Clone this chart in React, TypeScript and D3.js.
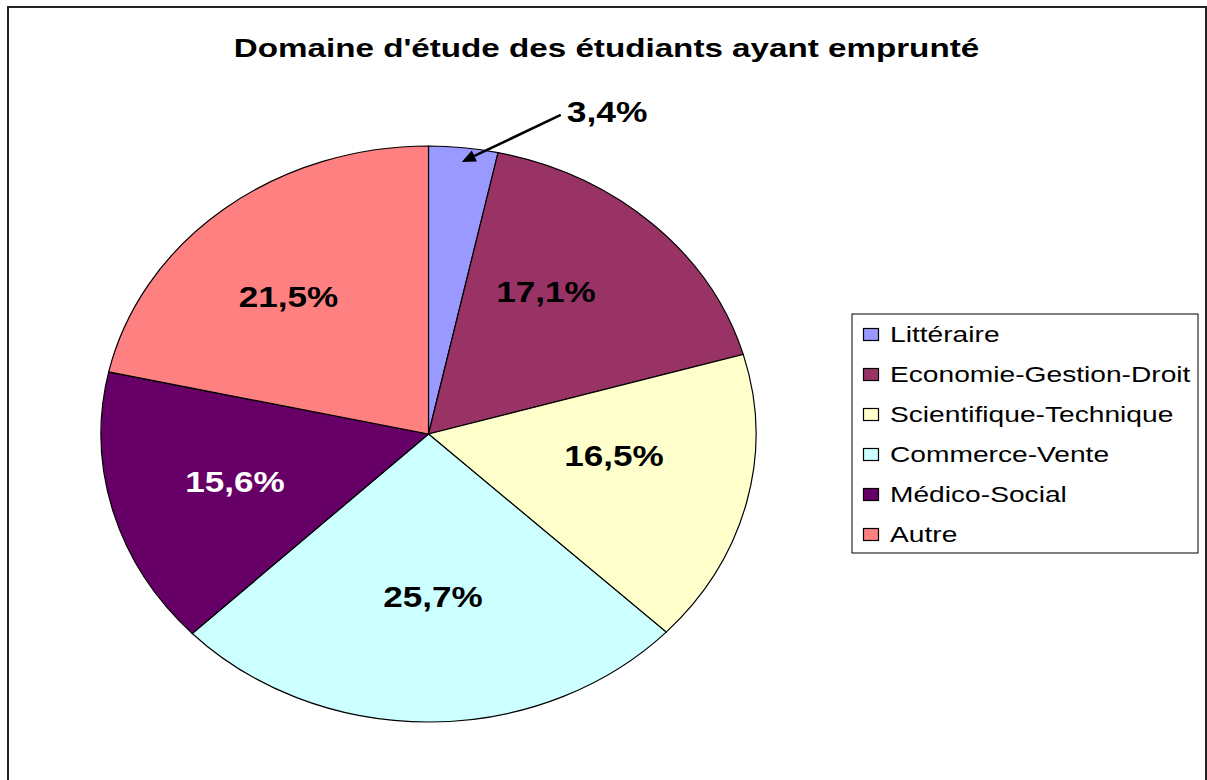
import React from "react";
import * as d3 from "d3";

const title = "Domaine d'étude des étudiants ayant emprunté";
const categories = [
  "Littéraire",
  "Economie-Gestion-Droit",
  "Scientifique-Technique",
  "Commerce-Vente",
  "Médico-Social",
  "Autre",
];
const values = [3.4, 17.1, 16.5, 25.7, 15.6, 21.5];
const valueLabels = ["3,4%", "17,1%", "16,5%", "25,7%", "15,6%", "21,5%"];
const colors = ["#9999FF", "#993366", "#FFFFCC", "#CCFFFF", "#660066", "#FF8080"];
const labelColors = ["#000", "#000", "#000", "#000", "#fff", "#000"];

const W = 1207;
const H = 780;
const cx = 428.5;
const cy = 434;
const rx = 327.5;
const ry = 288;
const font = "'Liberation Sans', Arial, sans-serif";

export default function App() {
  const data = categories.map((c, i) => ({ c, v: values[i], i }));
  const pie = d3.pie<any>().value((d) => d.v).sort(null);
  const arcs = pie(data);
  const arc = d3.arc<any>().innerRadius(0).outerRadius(ry);

  const pt = (a: number, f: number, ox = 0, oy = 0) => [
    cx + ox + f * rx * Math.sin(a),
    cy + oy - f * ry * Math.cos(a),
  ];

  const legendX = 852;
  const legendY = 314;
  const rowH = 40;

  return (
    <svg
      width={W}
      height={H}
      style={{ position: "absolute", left: 0, top: 0, background: "#fff" }}
    >
      <rect x={0} y={0} width={W} height={H} fill="#fff" />
      <rect x={8} y={7} width={1198} height={800} fill="#fff" stroke="#222" strokeWidth={2} />
      <text
        transform={`translate(606.5,56.5) scale(1.277,1)`}
        textAnchor="middle"
        fontFamily={font}
        fontWeight="bold"
        fontSize={26}
        fill="#000"
      >
        {title}
      </text>

      <g transform={`translate(${cx},${cy}) scale(${rx / ry},1)`}>
        {arcs.map((a, i) => (
          <path
            key={i}
            d={arc(a) as string}
            fill={colors[i]}
            stroke="#000"
            strokeWidth={1.2}
            vectorEffect="non-scaling-stroke"
          />
        ))}
      </g>

      {arcs.map((a, i) => {
        if (i === 0) return null;
        const mid = (a.startAngle + a.endAngle) / 2 - 0.06;
        const [x, y] = pt(mid, 0.6, -8, -10);
        return (
          <text
            key={i}
            transform={`translate(${x},${y + 11}) scale(1.17,1)`}
            textAnchor="middle"
            fontFamily={font}
            fontWeight="bold"
            fontSize={30}
            fill={labelColors[i]}
          >
            {valueLabels[i]}
          </text>
        );
      })}

      {(() => {
        const a = arcs[0];
        const mid = (a.startAngle + a.endAngle) / 2;
        const [tx, ty] = pt(mid, 0.95);
        const sx = tx + 99;
        const sy = ty - 47;
        const ang = Math.atan2(ty - sy, tx - sx);
        const len = 14;
        const wid = 6;
        const bx = tx - len * Math.cos(ang);
        const by = ty - len * Math.sin(ang);
        const p1 = [bx + wid * Math.sin(ang), by - wid * Math.cos(ang)];
        const p2 = [bx - wid * Math.sin(ang), by + wid * Math.cos(ang)];
        return (
          <g>
            <line x1={sx} y1={sy} x2={bx} y2={by} stroke="#000" strokeWidth={2.5} />
            <polygon points={`${tx},${ty} ${p1[0]},${p1[1]} ${p2[0]},${p2[1]}`} fill="#000" />
            <text
              transform={`translate(${sx + 6},${sy + 7}) scale(1.18,1)`}
              fontFamily={font}
              fontWeight="bold"
              fontSize={30}
              fill="#000"
            >
              {valueLabels[0]}
            </text>
          </g>
        );
      })()}

      <rect x={legendX} y={legendY} width={346} height={239} fill="#fff" stroke="#000" strokeWidth={1} />
      {categories.map((c, i) => (
        <g key={c}>
          <rect
            x={863.5}
            y={328.5 + i * rowH}
            width={15}
            height={12}
            fill={colors[i]}
            stroke="#000"
            strokeWidth={1.2}
          />
          <text
            transform={`translate(890,${342 + i * rowH}) scale(1.31,1)`}
            fontFamily={font}
            fontSize={21.5}
            fill="#000"
          >
            {c}
          </text>
        </g>
      ))}
    </svg>
  );
}
